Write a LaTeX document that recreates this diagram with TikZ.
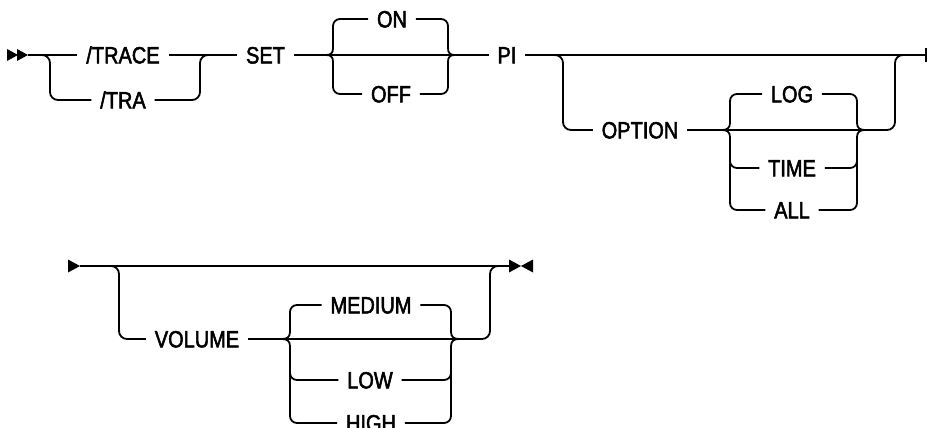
\documentclass[tikz,border=0pt]{standalone}
\usepackage{fontspec}
\setmainfont{Liberation Sans}
\newfontfamily\lblfont{Liberation Sans}[FakeBold=2.2, FakeStretch=0.85]
\begin{document}
\begin{tikzpicture}[x=1pt,y=-1pt,
  line width=1.8pt, line cap=butt,
  lbl/.style={font=\lblfont\fontsize{23.5}{25}\selectfont, inner xsep=8pt, inner ysep=0pt,
              text height=16.8pt, text depth=0pt, anchor=center},
  rc/.style={rounded corners=8pt},
  bc/.style={rounded corners=7pt},
  tip/.style={fill=black, draw=none}]
\useasboundingbox (0,0) rectangle (927,428);

% ---------------- Row 1 ----------------
\coordinate (s1) at (28,55);
\fill[tip] (7,49) -- (18,55) -- (7,61) -- cycle;
\fill[tip] (17,49) -- (28,55) -- (17,61) -- cycle;

\node[lbl] (trace) at (123,55) {/TRACE};
\node[lbl] (tra) at (123,100) {/TRA};
\node[lbl] (set) at (265.5,55) {SET};
\node[lbl] (on) at (392,19) {ON};
\node[lbl] (off) at (391,94) {OFF};
\node[lbl] (pi) at (507,55) {PI};
\node[lbl] (option) at (640,130) {OPTION};
\node[lbl] (log) at (792,94) {LOG};
\node[lbl] (time) at (792,168) {TIME};
\node[lbl] (all) at (792,210) {ALL};
\coordinate (e1) at (926,55);

\draw (s1) -- (trace);
\draw[rc] (41,55) -- (50,55) -- (50,100) -- (tra);
\draw (trace) -- (set);
\draw[rc] (tra) -- (200,100) -- (200,55) -- (209,55);
\draw (set) -- (pi);
% ON/OFF braces
\draw (326,55) .. controls (331,55) and (333,53) .. (333,48) [bc] -- (333,19) -- (on);
\draw (326,55) .. controls (331,55) and (333,57) .. (333,62) [bc] -- (333,94) -- (off);
\draw (455,55) .. controls (450,55) and (448,53) .. (448,48) [bc] -- (448,19) -- (on);
\draw (455,55) .. controls (450,55) and (448,57) .. (448,62) [bc] -- (448,94) -- (off);

\draw (pi) -- (e1);
\draw (e1) ++(0,-7) -- ++(0,14);
\draw[rc] (553,55) -- (563,55) -- (563,130) -- (option);
\draw[rc] (option) -- (895,130) -- (895,55) -- (904,55);
% LOG/TIME/ALL braces
\draw (722,130) .. controls (727,130) and (730,128) .. (730,123) [bc] -- (730,94) -- (log);
\draw (722,130) .. controls (727,130) and (730,132) .. (730,137) [bc] -- (730,210) -- (all);
\draw[bc] (730,150) -- (730,168) -- (time);
\draw (865,130) .. controls (860,130) and (857,128) .. (857,123) [bc] -- (857,94) -- (log);
\draw (865,130) .. controls (860,130) and (857,132) .. (857,137) [bc] -- (857,210) -- (all);
\draw[bc] (857,150) -- (857,168) -- (time);

% ---------------- Row 2 ----------------
\coordinate (s2) at (80,266);
\fill[tip] (68,259.5) -- (80,266) -- (68,272.5) -- cycle;
\node[lbl] (volume) at (197,339) {VOLUME};
\node[lbl] (medium) at (371,305) {MEDIUM};
\node[lbl] (low) at (370,380) {LOW};
\node[lbl] (high) at (371,423) {HIGH};
\coordinate (e2) at (510,266);

\draw (s2) -- (e2);
\fill[tip] (509,259.5) -- (521,266) -- (509,272.5) -- cycle;
\fill[tip] (533,259.5) -- (521,266) -- (533,272.5) -- cycle;
\draw[rc] (110,266) -- (119,266) -- (119,339) -- (volume);
\draw[rc] (volume) -- (490,339) -- (490,266) -- (499,266);
\draw (282,339) .. controls (287,339) and (290,337) .. (290,332) [bc] -- (290,305) -- (medium);
\draw (282,339) .. controls (287,339) and (290,341) .. (290,346) [bc] -- (290,423) -- (high);
\draw[bc] (290,360) -- (290,380) -- (low);
\draw (459,339) .. controls (454,339) and (451,337) .. (451,332) [bc] -- (451,305) -- (medium);
\draw (459,339) .. controls (454,339) and (451,341) .. (451,346) [bc] -- (451,423) -- (high);
\draw[bc] (451,360) -- (451,380) -- (low);
\end{tikzpicture}
\end{document}
